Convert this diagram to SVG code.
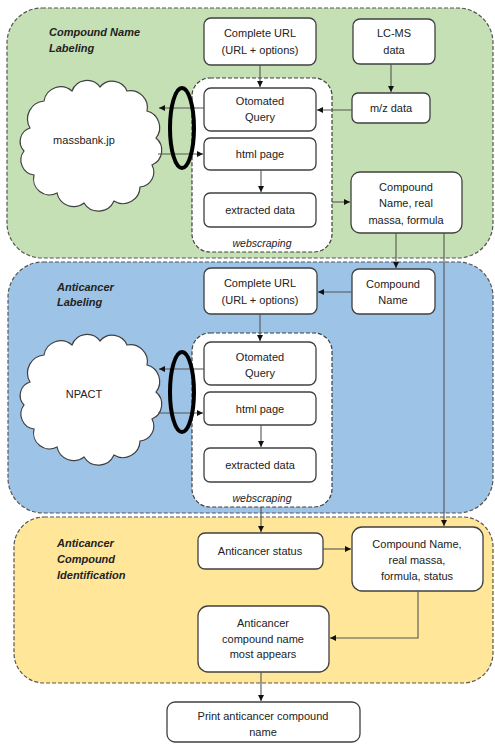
<svg xmlns="http://www.w3.org/2000/svg" width="495" height="746" viewBox="0 0 495 746">
<defs>
<style>
.panel{stroke:#555;stroke-width:1.2;stroke-dasharray:4 2}
.box{fill:#fff;stroke:#404040;stroke-width:1.3}
.ws{fill:#fff;stroke:#404040;stroke-width:1.2;stroke-dasharray:4 2}
.cloud{fill:#fff;stroke:#404040;stroke-width:1.2}
.t{font-family:"Liberation Sans",Arial,sans-serif;font-size:11px;fill:#222;text-anchor:middle}
.ti{font-family:"Liberation Sans",Arial,sans-serif;font-size:10.5px;font-style:italic;fill:#222;text-anchor:middle}
.sec{font-family:"Liberation Sans",Arial,sans-serif;font-size:11px;font-style:italic;font-weight:bold;fill:#222}
.c{fill:none;stroke:#555;stroke-width:1.1;marker-end:url(#ah)}
.ring{fill:none;stroke:#000;stroke-width:4}
</style>
<marker id="ah" markerUnits="userSpaceOnUse" markerWidth="7" markerHeight="7" refX="6" refY="3" orient="auto">
<path d="M0,0 L6,3 L0,6 z" fill="#111"/>
</marker>
<path id="cloudShape" d="M8 45 A18 18 0 0 1 22 18 A17 17 0 0 1 50 8 A16 16 0 0 1 78 4 A16 16 0 0 1 105 8 A17 17 0 0 1 125 28 A17 17 0 0 1 134 55 A16 16 0 0 1 130 82 A15 15 0 0 1 118 104 A17 17 0 0 1 92 118 A17 17 0 0 1 62 120 A17 17 0 0 1 35 110 A16 16 0 0 1 12 92 A15 15 0 0 1 2 68 A14 14 0 0 1 8 45 Z"/>
</defs>

<g id="panel-compound-name">
<rect class="panel" x="7" y="8" width="486" height="250" rx="35" fill="#c5e0b4"/>
<text class="sec" x="49" y="36">Compound Name</text>
<text class="sec" x="49" y="52">Labeling</text>
</g>
<g id="panel-anticancer-labeling">
<rect class="panel" x="8" y="262" width="485" height="251" rx="35" fill="#9dc3e6"/>
<text class="sec" x="57" y="291">Anticancer</text>
<text class="sec" x="57" y="306">Labeling</text>
</g>
<g id="panel-identification">
<rect class="panel" x="14" y="517" width="479" height="166" rx="30" fill="#ffe699"/>
<text class="sec" x="57" y="547">Anticancer</text>
<text class="sec" x="57" y="563">Compound</text>
<text class="sec" x="57" y="579">Identification</text>
</g>

<g id="ws1">
<rect class="ws" x="192" y="78" width="140" height="174" rx="18"/>
<text class="ti" x="262" y="247">webscraping</text>
</g>
<g id="ws2">
<rect class="ws" x="192" y="333" width="140" height="174" rx="18"/>
<text class="ti" x="262" y="502">webscraping</text>
</g>

<g id="url1"><rect class="box" x="204" y="18" width="112" height="47" rx="7"/>
<text class="t" x="260" y="37">Complete URL</text><text class="t" x="260" y="54">(URL + options)</text></g>
<g id="lcms"><rect class="box" x="353" y="19" width="82" height="45" rx="7"/>
<text class="t" x="394" y="37">LC-MS</text><text class="t" x="394" y="54">data</text></g>
<g id="mz"><rect class="box" x="352" y="93" width="78" height="30" rx="6"/>
<text class="t" x="391" y="112">m/z data</text></g>
<g id="query1"><rect class="box" x="204" y="88" width="112" height="43" rx="7"/>
<text class="t" x="260" y="105">Otomated</text><text class="t" x="260" y="121">Query</text></g>
<g id="html1"><rect class="box" x="204" y="138" width="112" height="32" rx="6"/>
<text class="t" x="260" y="158">html page</text></g>
<g id="extract1"><rect class="box" x="204" y="193" width="112" height="34" rx="6"/>
<text class="t" x="260" y="214">extracted data</text></g>
<g id="cn1"><rect class="box" x="351" y="172" width="111" height="61" rx="9"/>
<text class="t" x="406" y="191">Compound</text><text class="t" x="406" y="207">Name, real</text><text class="t" x="406" y="224">massa, formula</text></g>
<g id="massbank"><use href="#cloudShape" class="cloud" transform="translate(22,83)"/>
<text class="t" x="84" y="144">massbank.jp</text></g>

<g id="url2"><rect class="box" x="204" y="268" width="113" height="46" rx="7"/>
<text class="t" x="260" y="287">Complete URL</text><text class="t" x="260" y="304">(URL + options)</text></g>
<g id="cn2"><rect class="box" x="352" y="269" width="83" height="45" rx="7"/>
<text class="t" x="393" y="288">Compound</text><text class="t" x="393" y="304">Name</text></g>
<g id="query2"><rect class="box" x="204" y="342" width="112" height="43" rx="7"/>
<text class="t" x="260" y="361">Otomated</text><text class="t" x="260" y="377">Query</text></g>
<g id="html2"><rect class="box" x="204" y="392" width="112" height="33" rx="6"/>
<text class="t" x="260" y="413">html page</text></g>
<g id="extract2"><rect class="box" x="204" y="448" width="112" height="34" rx="6"/>
<text class="t" x="260" y="469">extracted data</text></g>
<g id="npact"><use href="#cloudShape" class="cloud" transform="translate(22,337)"/>
<text class="t" x="84" y="398">NPACT</text></g>

<g id="status"><rect class="box" x="198" y="533" width="125" height="36" rx="7"/>
<text class="t" x="260" y="555">Anticancer status</text></g>
<g id="cn3"><rect class="box" x="352" y="527" width="131" height="64" rx="10"/>
<text class="t" x="417" y="548">Compound Name,</text><text class="t" x="417" y="564">real massa,</text><text class="t" x="417" y="580">formula, status</text></g>
<g id="most"><rect class="box" x="198" y="606" width="131" height="66" rx="10"/>
<text class="t" x="263" y="627">Anticancer</text><text class="t" x="263" y="643">compound name</text><text class="t" x="263" y="658">most appears</text></g>
<g id="print"><rect class="box" x="167" y="702" width="193" height="40" rx="8"/>
<text class="t" x="263" y="720">Print anticancer compound</text><text class="t" x="263" y="736">name</text></g>

<g id="connectors">
<path class="c" d="M260 65 V87"/>
<path class="c" d="M391 64 V92"/>
<path class="c" d="M352 110 H317"/>
<path class="c" d="M204 108 H159"/>
<path class="c" d="M158 154 H203"/>
<path class="c" d="M261 170 V192"/>
<path class="c" d="M332 202 H350"/>
<path class="c" d="M396 233 V268"/>
<path class="c" d="M444 233 V526"/>
<path class="c" d="M352 292 H318"/>
<path class="c" d="M260 314 V341"/>
<path class="c" d="M204 369 H159"/>
<path class="c" d="M158 413 H203"/>
<path class="c" d="M261 425 V447"/>
<path class="c" d="M261 507 V532"/>
<path class="c" d="M323 549 H351"/>
<path class="c" d="M418 591 V638 H330"/>
<path class="c" d="M261 672 V701"/>
</g>

<g id="rings">
<ellipse class="ring" cx="182" cy="128" rx="12" ry="40"/>
<ellipse class="ring" cx="182" cy="392" rx="12" ry="40"/>
</g>
</svg>
